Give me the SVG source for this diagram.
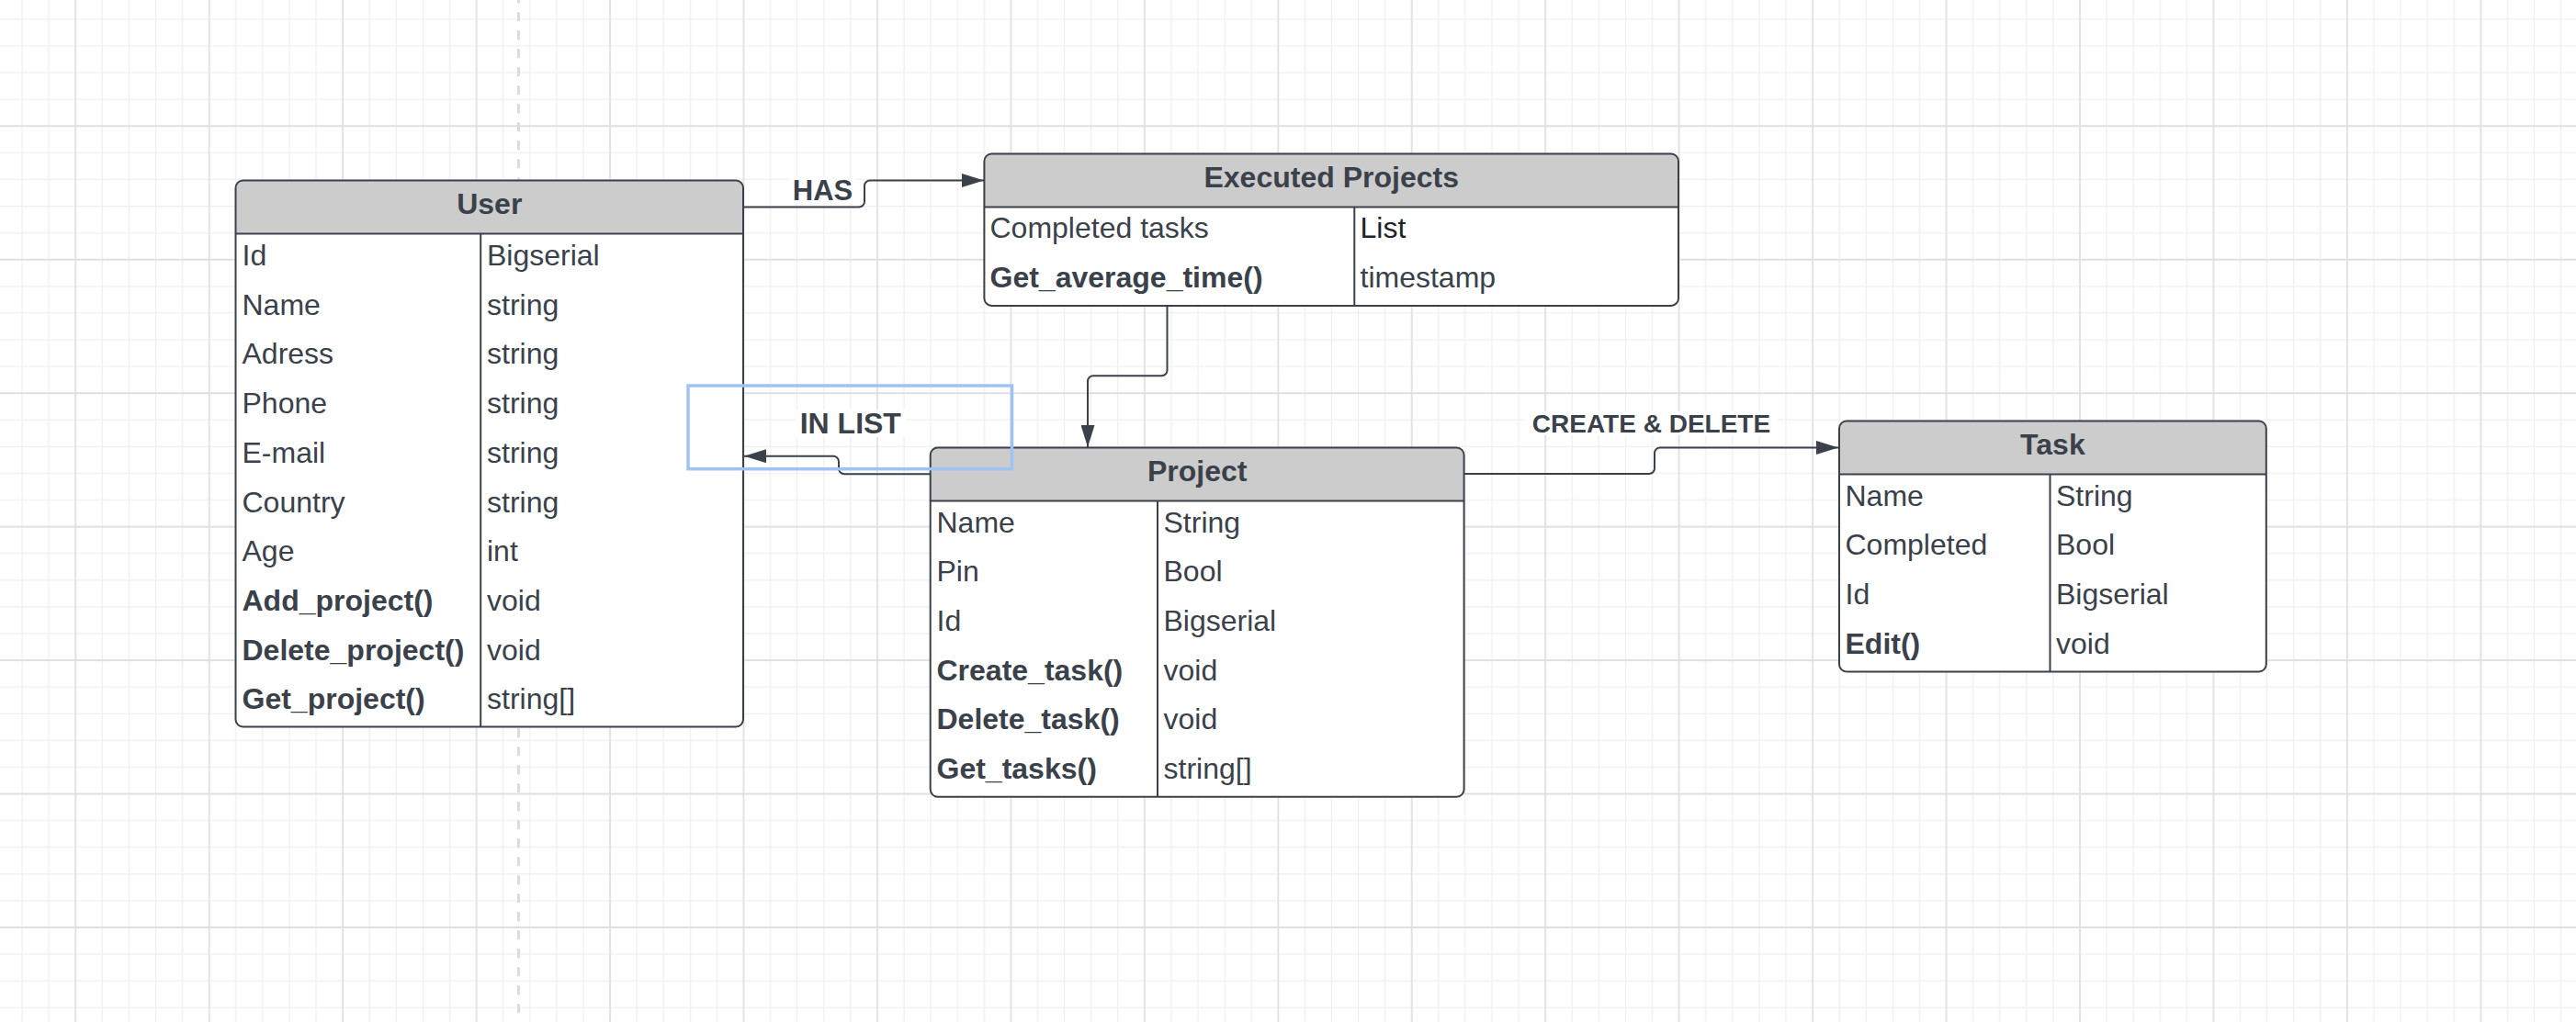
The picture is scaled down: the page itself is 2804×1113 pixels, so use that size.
<svg xmlns="http://www.w3.org/2000/svg" width="2804" height="1113" viewBox="0 0 2804 1113">
<style>
.t{font-family:"Liberation Sans",Arial,sans-serif;font-size:32px;fill:#3a414a}
.b{font-weight:bold}
.h{font-family:"Liberation Sans",Arial,sans-serif;font-size:32px;font-weight:bold;fill:#3a414a;text-anchor:middle}
.lbl{font-family:"Liberation Sans",Arial,sans-serif;font-weight:bold;fill:#3a414a;text-anchor:middle}
.box{fill:none;stroke:#3a414a;stroke-width:2}
.body{fill:#ffffff}
.head{fill:#cccccc}
.sep{stroke:#3a414a;stroke-width:2;fill:none}
.con{fill:none;stroke:#3a414a;stroke-width:2}
.lblbg{fill:#ffffff}
</style>
<defs>
<pattern id="grid" patternUnits="userSpaceOnUse" x="81.25" y="136.3" width="145.45" height="145.45">
<path d="M30.09 0V145.45M59.18 0V145.45M88.27 0V145.45M117.36 0V145.45M0 30.09H145.45M0 59.18H145.45M0 88.27H145.45M0 117.36H145.45" stroke="#efefef" stroke-width="1.3" fill="none"/>
<path d="M1 0V145.45M0 1H145.45" stroke="#e0e0e0" stroke-width="1.8" fill="none"/>
</pattern>
<marker id="arr" markerUnits="userSpaceOnUse" viewBox="0 0 24 15" markerWidth="24" markerHeight="15" refX="24" refY="7.5" orient="auto">
<path d="M0 0L24 7.5L0 15Z" fill="#3a414a"/>
</marker>
</defs>
<rect width="2804" height="1113" fill="#ffffff"/>
<rect width="2804" height="1113" fill="url(#grid)"/>
<line x1="564.5" y1="0" x2="564.5" y2="1113" stroke="#dcdcdc" stroke-width="3" stroke-dasharray="10 10" stroke-dashoffset="6.7"/>

<g id="connectors">
<path class="con" marker-end="url(#arr)" d="M809 225.5H935A6 6 0 0 0 941 219.5V202.5A6 6 0 0 1 947 196.5H1071"/>
<path class="con" marker-end="url(#arr)" d="M1012.7 516.3H919A6 6 0 0 1 913 510.3V502.7A6 6 0 0 0 907 496.7H810"/>
<path class="con" marker-end="url(#arr)" d="M1270.5 332.9V403.3A6 6 0 0 1 1264.5 409.3H1190A6 6 0 0 0 1184 415.3V487"/>
<path class="con" marker-end="url(#arr)" d="M1593.6 516H1795A6 6 0 0 0 1801 510V493.5A6 6 0 0 1 1807 487.5H2001"/>
<rect class="lblbg" x="859" y="193" width="73" height="28"/>
<text class="lbl" x="895.5" y="217.7" font-size="31">HAS</text>
<rect class="lblbg" x="866" y="446" width="120" height="30"/>
<text class="lbl" x="925.8" y="471.5" font-size="32">IN LIST</text>
<rect class="lblbg" x="1660" y="448" width="275" height="26"/>
<text class="lbl" x="1797.5" y="470.7" font-size="28">CREATE &amp; DELETE</text>
</g>

<g id="user">
<rect class="body" x="256.5" y="196.5" width="552.5" height="595" rx="8"/>
<path class="head" d="M256.5 254.5V204.5A8 8 0 0 1 264.5 196.5H801A8 8 0 0 1 809 204.5V254.5Z"/>
<path class="sep" d="M256.5 254.5H809M523.2 254.5V791.5"/>
<rect class="box" x="256.5" y="196.5" width="552.5" height="595" rx="8"/>
<text class="h" x="532.75" y="233.2">User</text>
<text class="t" x="263.5" y="289">Id</text><text class="t" x="530" y="289">Bigserial</text>
<text class="t" x="263.5" y="342.7">Name</text><text class="t" x="530" y="342.7">string</text>
<text class="t" x="263.5" y="396.4">Adress</text><text class="t" x="530" y="396.4">string</text>
<text class="t" x="263.5" y="450.1">Phone</text><text class="t" x="530" y="450.1">string</text>
<text class="t" x="263.5" y="503.8">E-mail</text><text class="t" x="530" y="503.8">string</text>
<text class="t" x="263.5" y="557.5">Country</text><text class="t" x="530" y="557.5">string</text>
<text class="t" x="263.5" y="611.2">Age</text><text class="t" x="530" y="611.2">int</text>
<text class="t b" x="263.5" y="664.9">Add_project()</text><text class="t" x="530" y="664.9">void</text>
<text class="t b" x="263.5" y="718.6">Delete_project()</text><text class="t" x="530" y="718.6">void</text>
<text class="t b" x="263.5" y="772.3">Get_project()</text><text class="t" x="530" y="772.3">string[]</text>
</g>

<g id="executed-projects">
<rect class="body" x="1071.4" y="167.5" width="755.6" height="165.4" rx="8"/>
<path class="head" d="M1071.4 225.5V175.5A8 8 0 0 1 1079.4 167.5H1819A8 8 0 0 1 1827 175.5V225.5Z"/>
<path class="sep" d="M1071.4 225.5H1827M1474.3 225.5V332.9"/>
<rect class="box" x="1071.4" y="167.5" width="755.6" height="165.4" rx="8"/>
<text class="h" x="1449.2" y="204">Executed Projects</text>
<text class="t" x="1077.5" y="259">Completed tasks</text><text class="t" x="1480.5" y="259" style="fill:#1f2328">List</text>
<text class="t b" x="1077.5" y="312.5">Get_average_time()</text><text class="t" x="1480.5" y="312.5">timestamp</text>
</g>

<g id="project">
<rect class="body" x="1012.7" y="487.5" width="580.9" height="380.2" rx="8"/>
<path class="head" d="M1012.7 545.5V495.5A8 8 0 0 1 1020.7 487.5H1585.6A8 8 0 0 1 1593.6 495.5V545.5Z"/>
<path class="sep" d="M1012.7 545.5H1593.6M1260 545.5V867.7"/>
<rect class="box" x="1012.7" y="487.5" width="580.9" height="380.2" rx="8"/>
<text class="h" x="1303.15" y="523.5">Project</text>
<text class="t" x="1019.5" y="579.5">Name</text><text class="t" x="1266.5" y="579.5">String</text>
<text class="t" x="1019.5" y="633.2">Pin</text><text class="t" x="1266.5" y="633.2">Bool</text>
<text class="t" x="1019.5" y="686.9">Id</text><text class="t" x="1266.5" y="686.9">Bigserial</text>
<text class="t b" x="1019.5" y="740.6">Create_task()</text><text class="t" x="1266.5" y="740.6">void</text>
<text class="t b" x="1019.5" y="794.3">Delete_task()</text><text class="t" x="1266.5" y="794.3">void</text>
<text class="t b" x="1019.5" y="848">Get_tasks()</text><text class="t" x="1266.5" y="848">string[]</text>
</g>

<g id="task">
<rect class="body" x="2002" y="458.5" width="464.8" height="273" rx="8"/>
<path class="head" d="M2002 516.5V466.5A8 8 0 0 1 2010 458.5H2458.8A8 8 0 0 1 2466.8 466.5V516.5Z"/>
<path class="sep" d="M2002 516.5H2466.8M2231.5 516.5V731.5"/>
<rect class="box" x="2002" y="458.5" width="464.8" height="273" rx="8"/>
<text class="h" x="2234.4" y="495">Task</text>
<text class="t" x="2008.5" y="550.5">Name</text><text class="t" x="2238" y="550.5">String</text>
<text class="t" x="2008.5" y="604.2">Completed</text><text class="t" x="2238" y="604.2">Bool</text>
<text class="t" x="2008.5" y="657.9">Id</text><text class="t" x="2238" y="657.9">Bigserial</text>
<text class="t b" x="2008.5" y="711.6">Edit()</text><text class="t" x="2238" y="711.6">void</text>
</g>

<rect x="749" y="420" width="352.5" height="90.7" fill="none" stroke="#9ec3f7" stroke-width="3.5"/>
</svg>
